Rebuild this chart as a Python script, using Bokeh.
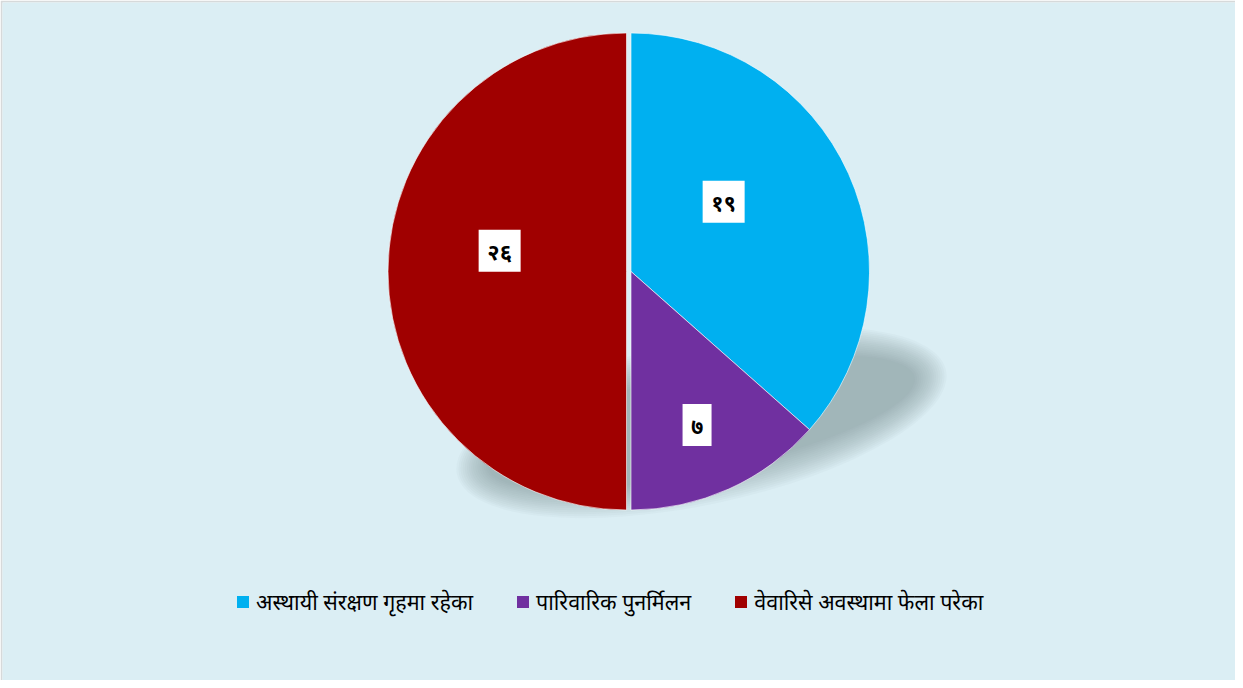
import numpy as np
import pandas as pd
from bokeh.plotting import figure
from bokeh.models import Range1d, Legend, LegendItem, ColumnDataSource
from bokeh.core.properties import value
from bokeh.embed import file_html
from bokeh.resources import INLINE

# ---- data ----
categories = ["अस्थायी संरक्षण गृहमा रहेका", "पारिवारिक पुनर्मिलन", "वेवारिसे अवस्थामा फेला परेका"]
counts = [19, 7, 26]
count_labels = ["१९", "७", "२६"]
colors = ["#00B0F0", "#7030A0", "#A00000"]

# ---- layout / style ----
W, H = 1235, 680
FW, FH = W - 2, H - 2
CX, CY, R = 628.5, 409.0, 238.5
explode = [0.0, 0.0, 4.5]
label_angle_deg = [37.0, -66.7, 171.0]
label_r = [116.0, 167.0, 133.0]
box_w = [42, 29, 42]
box_h = 42
FONT = "Noto Sans"

df = pd.DataFrame({"cat": categories, "count": counts, "lab": count_labels, "color": colors})
total = df["count"].sum()
frac_end = df["count"].cumsum() / total
frac_start = frac_end - df["count"] / total
df["start"] = np.pi / 2 - 2 * np.pi * frac_start
df["end"] = np.pi / 2 - 2 * np.pi * frac_end
mid = (df["start"] + df["end"]) / 2
df["x"] = CX + np.array(explode) * np.cos(mid)
df["y"] = CY + np.array(explode) * np.sin(mid)
la = np.deg2rad(label_angle_deg)
df["lx"] = CX + np.array(label_r) * np.cos(la)
df["ly"] = CY + np.array(label_r) * np.sin(la)
df["bw"] = box_w

p = figure(width=W, height=H, output_backend="svg", toolbar_location=None,
           x_range=Range1d(0, FW), y_range=Range1d(0, FH),
           min_border_left=2, min_border_top=2, min_border_right=0, min_border_bottom=0)
p.axis.visible = False
p.grid.visible = False
p.outline_line_color = None
p.border_fill_color = "#D6D9DA"
p.background_fill_color = "#DBEEF4"

# soft shadow (layered ellipses)
n_layers = 16
for i in range(n_layers):
    d = 16 - i * 32 / (n_layers - 1)
    p.ellipse(x=[699], y=[258], width=[2 * (234 + d)], height=[2 * (66 + d)],
              angle=0.21, fill_color="#7A8A90", fill_alpha=0.045, line_color=None)

src = ColumnDataSource(df)
p.wedge(x="x", y="y", radius=R, start_angle="start", end_angle="end", direction="clock",
        fill_color="color", line_color="white", line_width=1, line_alpha=0.6, source=src)

p.rect(x="lx", y="ly", width="bw", height=box_h, fill_color="white", line_color=None, source=src)
p.text(x="lx", y="ly", text="lab", text_align="center", text_baseline="middle",
       text_font=value(FONT), text_font_size="22px", text_font_style="bold",
       text_color="black", source=src)

items = []
for cat, col in zip(categories, colors):
    r = p.rect(x=[-500], y=[-500], width=1, height=1, fill_color=col, line_color=None)
    items.append(LegendItem(label=cat, renderers=[r]))

legend = Legend(items=items, orientation="horizontal", location=(233, 64),
                glyph_width=15, glyph_height=15, label_standoff=6, spacing=42,
                padding=0, margin=0, background_fill_alpha=0, border_line_alpha=0,
                label_text_font=FONT, label_text_font_size="21.5px", label_text_color="black")
p.add_layout(legend, "center")

open("out.html", "w").write(file_html(p, INLINE))
